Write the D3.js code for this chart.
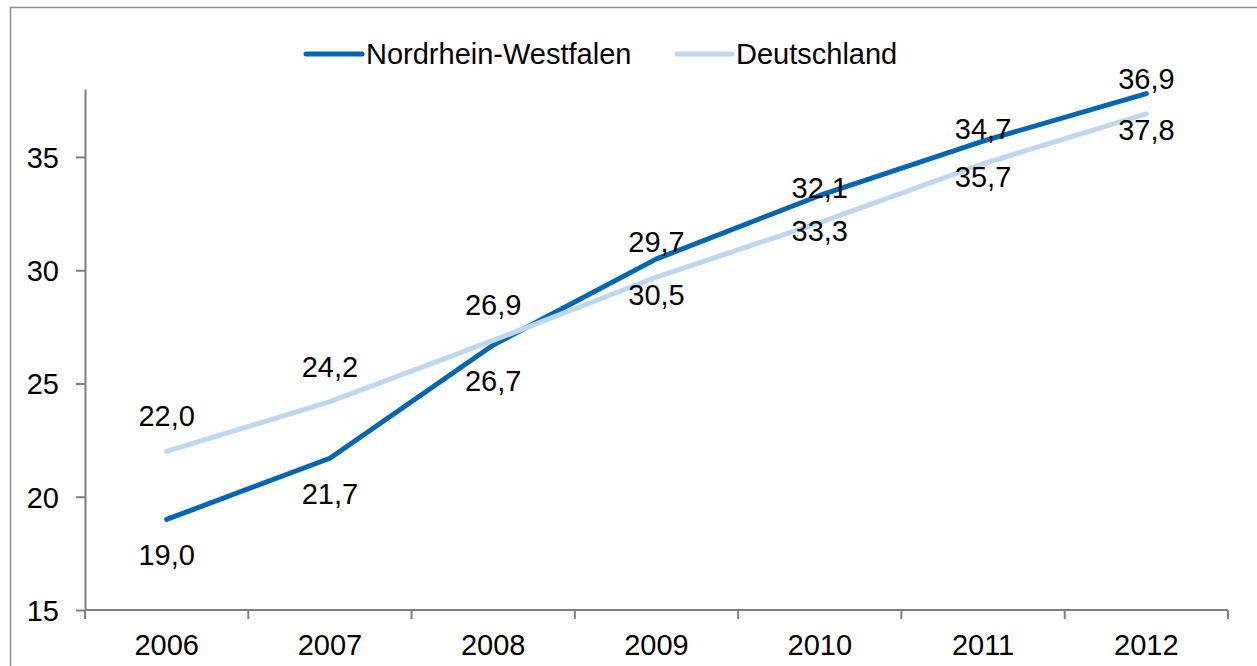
<!DOCTYPE html>
<html>
<head>
<meta charset="utf-8">
<script src="https://cdn.jsdelivr.net/npm/d3@7"></script>
<style>
  html, body { margin: 0; padding: 0; background: #fff; }
  svg { display: block; }
  text { font-family: "Liberation Sans", Arial, sans-serif; fill: #000; }
</style>
</head>
<body>
<svg id="chart" width="1257" height="666"></svg>
<script>
const years = ["2006", "2007", "2008", "2009", "2010", "2011", "2012"];
const nrwValues = [19.0, 21.7, 26.7, 30.5, 33.3, 35.7, 37.8];
const deValues = [22.0, 24.2, 26.9, 29.7, 32.1, 34.7, 36.9];
const yTicks = [15, 20, 25, 30, 35];
const seriesNames = ["Nordrhein-Westfalen", "Deutschland"];
const seriesColors = ["#0066B3", "#BDD7EE"];

const svg = d3.select("#chart");
const fontSize = 29;

// outer border
svg.append("rect")
  .attr("x", 10.5).attr("y", 7.5)
  .attr("width", 1300).attr("height", 700)
  .attr("fill", "none").attr("stroke", "#8c8c8c").attr("stroke-width", 1.5);

const pLeft = 85, pRight = 1228, pTop = 89, pBottom = 610;
const x = d3.scaleBand().domain(years).range([pLeft, pRight]).padding(0);
const y = d3.scaleLinear().domain([15, 38]).range([pBottom, pTop]);

const axisColor = "#7f7f7f";

// Y axis
const yAxis = svg.append("g")
  .attr("transform", `translate(${pLeft},0)`)
  .call(d3.axisLeft(y).tickValues(yTicks).tickSize(9).tickPadding(17).tickSizeOuter(0)
    .tickFormat(d3.format("d")));
yAxis.select(".domain").attr("stroke", axisColor).attr("stroke-width", 2);
yAxis.selectAll(".tick line").attr("stroke", axisColor).attr("stroke-width", 2);
yAxis.selectAll(".tick text")
  .style("font-family", '"Liberation Sans", Arial, sans-serif')
  .style("font-size", fontSize + "px").attr("fill", "#000").attr("dy", "0.36em");

// X axis (ticks between categories)
const xg = svg.append("g");
xg.append("line")
  .attr("x1", pLeft).attr("x2", pRight)
  .attr("y1", pBottom).attr("y2", pBottom)
  .attr("stroke", axisColor).attr("stroke-width", 2);
const boundaries = years.map(d => x(d)).concat([x(years[years.length - 1]) + x.bandwidth()]);
xg.selectAll("line.tk").data(boundaries).enter().append("line")
  .attr("class", "tk")
  .attr("x1", d => d).attr("x2", d => d)
  .attr("y1", pBottom).attr("y2", pBottom + 9)
  .attr("stroke", axisColor).attr("stroke-width", 2);
xg.selectAll("text").data(years).enter().append("text")
  .attr("x", d => x(d) + x.bandwidth() / 2)
  .attr("y", 655)
  .attr("text-anchor", "middle")
  .style("font-size", fontSize + "px")
  .text(d => d);

// Lines
const cx = d => x(d) + x.bandwidth() / 2;
const line = d3.line().x(d => cx(d.year)).y(d => y(d.v));
const series = [
  { name: seriesNames[0], color: seriesColors[0], values: nrwValues, off: 36 },
  { name: seriesNames[1], color: seriesColors[1], values: deValues, off: -35 }
];
series.forEach(s => {
  const pts = years.map((yr, i) => ({ year: yr, v: s.values[i] }));
  svg.append("path")
    .datum(pts)
    .attr("d", line)
    .attr("fill", "none")
    .attr("stroke", s.color)
    .attr("stroke-width", 5)
    .attr("stroke-linecap", "round")
    .attr("stroke-linejoin", "round");
});

// Value labels
const fmt = v => d3.format(".1f")(v).replace(".", ",");
series.forEach(s => {
  svg.append("g").selectAll("text")
    .data(years.map((yr, i) => ({ year: yr, v: s.values[i] })))
    .enter().append("text")
    .attr("x", d => cx(d.year))
    .attr("y", d => y(d.v) + s.off + 10)
    .attr("text-anchor", "middle")
    .style("font-size", fontSize + "px")
    .text(d => fmt(d.v));
});

// Legend
const legendY = 54;
const legendItems = [
  { name: seriesNames[0], color: seriesColors[0], x1: 306, x2: 362, tx: 366 },
  { name: seriesNames[1], color: seriesColors[1], x1: 677, x2: 732, tx: 736 }
];
legendItems.forEach(li => {
  svg.append("line")
    .attr("x1", li.x1).attr("x2", li.x2)
    .attr("y1", legendY).attr("y2", legendY)
    .attr("stroke", li.color).attr("stroke-width", 5)
    .attr("stroke-linecap", "round");
  svg.append("text")
    .attr("x", li.tx).attr("y", legendY + 10)
    .style("font-size", fontSize + "px")
    .text(li.name);
});
</script>
</body>
</html>
